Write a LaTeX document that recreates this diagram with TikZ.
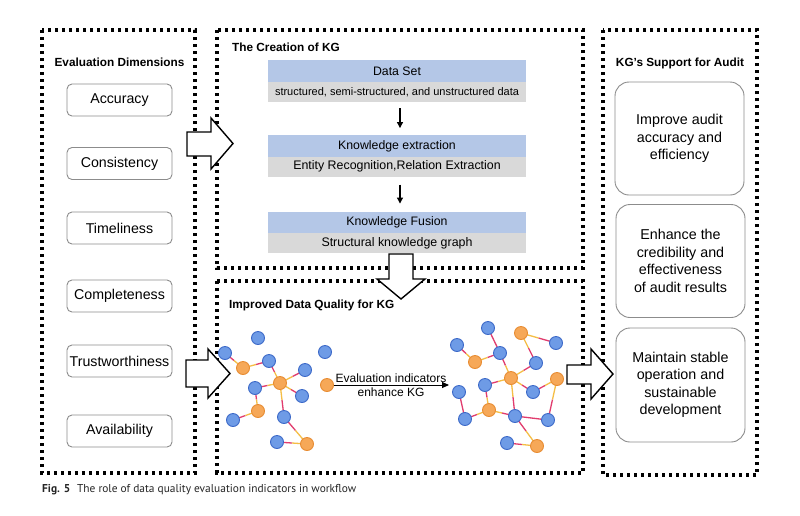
\documentclass[tikz,border=0pt]{standalone}
\usepackage{fontspec}
\setmainfont{Liberation Sans}
\newfontfamily\capfont{PT Sans}
\usetikzlibrary{calc,backgrounds,arrows.meta}
\pgfdeclarelayer{edgelayer}
\pgfsetlayers{background,edgelayer,main}
\definecolor{hblue}{RGB}{180,199,231}
\definecolor{hgray}{RGB}{217,217,217}
\definecolor{nbfill}{RGB}{110,155,230}
\definecolor{nbdraw}{RGB}{60,105,200}
\definecolor{nofill}{RGB}{246,168,88}
\definecolor{nodraw}{RGB}{232,140,50}
\definecolor{edgeor}{RGB}{245,190,70}
\definecolor{edgemg}{RGB}{225,60,110}
\newcommand\fs[1]{\fontsize{#1}{#1}\selectfont}
\newcommand\kgedge[2]{%
  \draw[edgeA] (#1.center) -- ($(#1.center)!0.5!(#2.center)$);
  \draw[edgeB] ($(#1.center)!0.5!(#2.center)$) -- (#2.center);}
\newcommand\kgbb[2]{\draw[edgeA] (#1.center) -- (#2.center);}
\tikzset{
  panel/.style={line width=3.3pt, dash pattern=on 3.3pt off 3.7pt, black},
  paneltitle/.style={font=\bfseries\fs{11.8}, inner sep=0pt},
  dimbox/.style={draw=black!45, rounded corners=5pt, line width=0.9pt,
    minimum width=105pt, minimum height=32pt, inner sep=0pt, font=\fs{14.2}},
  headbox/.style={fill=hblue, minimum width=258pt, minimum height=21.5pt, inner sep=0pt, font=\fs{12.3}},
  subbox/.style={fill=hgray, minimum width=258pt, minimum height=20pt, inner sep=0pt, font=\fs{12.4}},
  auditbox/.style={draw=black!45, rounded corners=14pt, line width=0.9pt,
    minimum width=129pt, minimum height=113pt, inner sep=0pt, align=center,
    font=\fontsize{14.3}{17.5}\selectfont},
  bigarrow/.style={draw=black, fill=white, line width=1.4pt, line join=miter},
  smallarrow/.style={-{Triangle[length=6pt,width=6pt]}, line width=1.1pt},
  bn/.style={circle, draw=nbdraw, fill=nbfill, line width=0.9pt, minimum size=13pt, inner sep=0pt},
  on/.style={circle, draw=nodraw, fill=nofill, line width=0.9pt, minimum size=13pt, inner sep=0pt},
  edgeA/.style={draw=edgemg, line width=1.3pt},
  edgeB/.style={draw=edgeor, line width=1.3pt},
}
\begin{document}
\begin{tikzpicture}[x=1pt,y=-1pt]
\useasboundingbox (0,0) rectangle (800,515);
\begin{pgfonlayer}{background}
\fill[white] (0,0) rectangle (800,515);
\end{pgfonlayer}

% panels
\draw[panel] (42,30) rectangle (195,473);
\draw[panel] (217,30) rectangle (583,268);
\draw[panel] (217,281) rectangle (583,473);
\draw[panel] (603,30) rectangle (757,475);

% left panel
\node[paneltitle] (evt) at (119.5,62) {Evaluation Dimensions};
\node[dimbox] (acc) at (119.5,100) {Accuracy};
\node[dimbox] (con) at (119.5,163.5) {Consistency};
\node[dimbox] (tim) at (119.5,228) {Timeliness};
\node[dimbox] (com) at (119.5,296) {Completeness};
\node[dimbox] (tru) at (119.5,361) {Trustworthiness};
\node[dimbox] (ava) at (119.5,431) {Availability};

% creation of KG
\node[paneltitle, anchor=west] (cre) at (232,47) {The Creation of KG};
\node[headbox] (dsh) at (397,71) {Data Set};
\node[subbox, font=\fs{11}] (dss) at (397,92) {structured, semi-structured, and unstructured data};
\node[headbox] (keh) at (397,146) {Knowledge extraction};
\node[subbox] (kes) at (397,166.5) {Entity Recognition,Relation Extraction};
\node[headbox] (kfh) at (397,222.5) {Knowledge Fusion};
\node[subbox] (kfs) at (397,243) {Structural knowledge graph};
\draw[smallarrow, shorten <=6pt, shorten >=7pt] (dss.south -| 400,0) -- (keh.north -| 400,0);
\draw[smallarrow, shorten <=8pt, shorten >=8pt] (kes.south -| 400,0) -- (kfh.north -| 400,0);

% improved data quality
\node[paneltitle, anchor=west] (imp) at (229,305) {Improved Data Quality for KG};

% left graph
\node[bn] (lb1) at (258,338) {};
\node[bn] (lb2) at (225,353) {};
\node[on] (lo1) at (243,368) {};
\node[bn] (lb3) at (269,361) {};
\node[bn] (lb4) at (325,352) {};
\node[bn] (lb5) at (305,370) {};
\node[on] (lo2) at (280,383) {};
\node[on] (lo3) at (327,385) {};
\node[bn] (lb6) at (255,388) {};
\node[bn] (lb7) at (302,396) {};
\node[on] (lo4) at (258,411) {};
\node[bn] (lb8) at (233,420) {};
\node[bn] (lb9) at (284,417) {};
\node[bn] (lb10) at (277,442) {};
\node[on] (lo5) at (307,444) {};

% right graph
\node[bn] (rb1) at (488,328) {};
\node[on] (ro1) at (521,333) {};
\node[bn] (rb2) at (556,343) {};
\node[bn] (rb3) at (457,345) {};
\node[on] (ro2) at (475,362) {};
\node[bn] (rb4) at (500,353) {};
\node[bn] (rb5) at (536,363) {};
\node[on] (ro3) at (511,378) {};
\node[on] (ro4) at (557,379) {};
\node[bn] (rb6) at (485,385) {};
\node[bn] (rb7) at (459,392) {};
\node[bn] (rb8) at (533,392) {};
\node[on] (ro5) at (489,410) {};
\node[bn] (rb9) at (515,416) {};
\node[bn] (rb10) at (548,420) {};
\node[bn] (rb11) at (465,419) {};
\node[bn] (rb12) at (507,443) {};
\node[on] (ro6) at (537,446) {};

\begin{pgfonlayer}{edgelayer}
\kgedge{lb2}{lo1}\kgedge{lb3}{lo1}\kgedge{lb3}{lo2}\kgedge{lb5}{lo2}
\kgedge{lb6}{lo2}\kgedge{lb7}{lo2}\kgedge{lb9}{lo2}\kgedge{lb6}{lo4}
\kgedge{lb8}{lo4}\kgedge{lb9}{lo5}\kgedge{lb10}{lo5}
\kgedge{rb3}{ro2}\kgedge{rb4}{ro2}\kgedge{rb4}{ro3}\kgedge{rb2}{ro1}
\kgedge{rb5}{ro1}\kgedge{rb5}{ro3}\kgedge{rb6}{ro3}\kgedge{rb8}{ro3}
\kgedge{rb9}{ro3}\kgedge{rb8}{ro4}\kgedge{rb10}{ro4}\kgedge{rb6}{ro5}
\kgedge{rb11}{ro5}\kgedge{rb9}{ro5}\kgedge{rb9}{ro6}\kgedge{rb12}{ro6}
\kgbb{rb1}{rb4}\kgbb{rb7}{rb11}\kgbb{rb9}{rb10}
\end{pgfonlayer}

% evaluation indicators arrow
\coordinate (evend) at (449,385);
\draw[-{Triangle[length=7pt,width=6pt]}, line width=0.9pt] (lo3.east) -- (evend);
\node[align=center, font=\fontsize{12}{14}\selectfont, inner sep=0pt] (evl) at (391,385.5) {Evaluation indicators\\enhance KG};

% right panel
\node[paneltitle] (sup) at (680,63) {KG’s Support for Audit};
\node[auditbox] (au1) at (679.5,138.5) {Improve audit\\accuracy and\\efficiency};
\node[auditbox] (au2) at (680.5,261) {Enhance the\\credibility and\\effectiveness\\of audit results};
\node[auditbox, minimum height=114pt] (au3) at (680.5,385) {Maintain stable\\operation and\\sustainable\\development};

% big arrows
\draw[bigarrow] (187,132) -- (211,132) -- (211,118) -- (233,143.5) -- (211,169) -- (211,156) -- (187,156) -- cycle;
\draw[bigarrow] (186,360) -- (208,360) -- (208,349) -- (230,373.5) -- (208,398) -- (208,387) -- (186,387) -- cycle;
\draw[bigarrow] (389,254) -- (413,254) -- (413,279) -- (425,279) -- (401,299) -- (377,279) -- (389,279) -- cycle;
\draw[bigarrow] (567,365) -- (591,365) -- (591,349) -- (613,374) -- (591,399) -- (591,384) -- (567,384) -- cycle;

% caption
\node[anchor=base west, inner sep=0pt, font=\capfont\fs{11.4}, text=black!85] (cap) at (42,492)
  {\textbf{Fig. 5}\hspace{0.6em}The role of data quality evaluation indicators in workflow};
\end{tikzpicture}
\end{document}
